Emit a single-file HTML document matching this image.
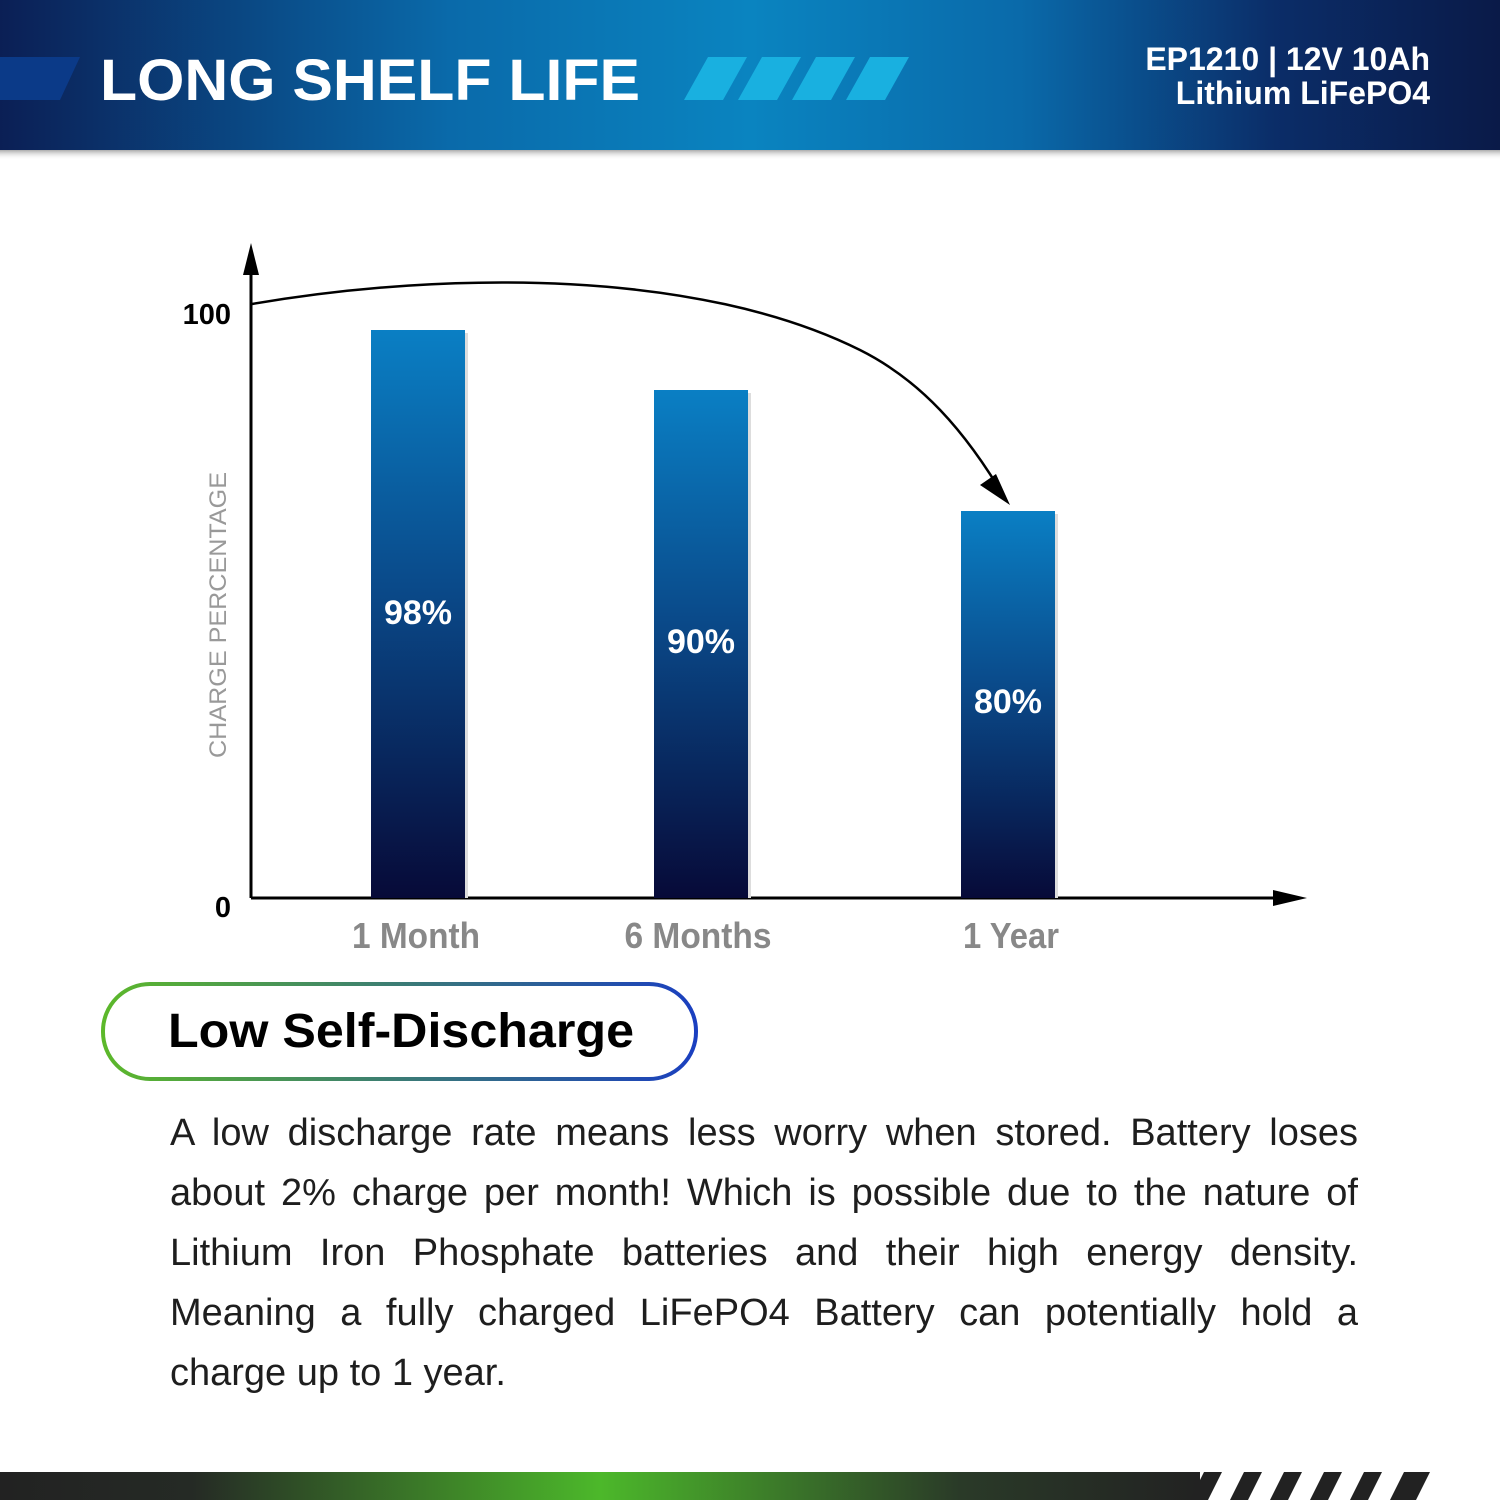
<!DOCTYPE html>
<html><head><meta charset="utf-8"><style>
html,body{margin:0;padding:0;background:#fff}
body{width:1500px;height:1500px;position:relative;overflow:hidden;font-family:"Liberation Sans",sans-serif}
.p{position:absolute;left:170px;top:1103px;width:1188px;font-size:38px;line-height:60px;color:#1e1e1e;text-align:justify;text-align-last:left}
</style></head><body>
<svg width="1500" height="1500" style="position:absolute;left:0;top:0">
<defs>
<linearGradient id="hd" x1="0" x2="1" y1="0" y2="0">
<stop offset="0" stop-color="#0b1f55"/><stop offset="0.3" stop-color="#0a6aaa"/><stop offset="0.5" stop-color="#0a84c0"/><stop offset="0.68" stop-color="#0a6aaa"/><stop offset="0.85" stop-color="#0b2d68"/><stop offset="1" stop-color="#0a1a48"/>
</linearGradient>
<linearGradient id="sh" x1="0" x2="0" y1="0" y2="1"><stop offset="0" stop-color="#888" stop-opacity=".7"/><stop offset="1" stop-color="#fff" stop-opacity="0"/></linearGradient>
<linearGradient id="bar" x1="0" x2="0" y1="0" y2="1"><stop offset="0" stop-color="#0a7fc4"/><stop offset="0.45" stop-color="#0a4a8a"/><stop offset="1" stop-color="#070a38"/></linearGradient>
<linearGradient id="ft" x1="0" x2="1" y1="0" y2="0"><stop offset="0" stop-color="#222"/><stop offset="0.16" stop-color="#252a25"/><stop offset="0.5" stop-color="#4cb82a"/><stop offset="0.8" stop-color="#2a3a28"/><stop offset="1" stop-color="#222"/></linearGradient>
<linearGradient id="pl" x1="0" x2="1" y1="0" y2="0"><stop offset="0" stop-color="#5cb82a"/><stop offset="1" stop-color="#1a3fc0"/></linearGradient>
</defs>
<rect x="0" y="0" width="1500" height="150" fill="url(#hd)"/>
<rect x="0" y="150" width="1500" height="10" fill="url(#sh)"/>
<polygon points="0,57 80,57 60,100 0,100" fill="#0b3a88"/>
<text x="100" y="100" font-size="58" font-weight="bold" fill="#fff" textLength="540" lengthAdjust="spacingAndGlyphs">LONG SHELF LIFE</text>
<g fill="#19b0e0">
<polygon points="708,57 747,57 723,100 684,100"/><polygon points="762,57 801,57 777,100 738,100"/><polygon points="816,57 855,57 831,100 792,100"/><polygon points="870,57 909,57 885,100 846,100"/>
</g>
<text x="1430" y="70" font-size="32" font-weight="bold" fill="#fff" text-anchor="end">EP1210 | 12V 10Ah</text>
<text x="1430" y="104" font-size="32" font-weight="bold" fill="#fff" text-anchor="end">Lithium LiFePO4</text>
<line x1="251" y1="898" x2="251" y2="250" stroke="#000" stroke-width="3"/>
<polygon points="251,243 243,275 259,275" fill="#000"/>
<line x1="251" y1="898" x2="1280" y2="898" stroke="#000" stroke-width="3"/>
<polygon points="1307,898 1273,890 1273,906" fill="#000"/>
<text x="231" y="324" font-size="29" font-weight="bold" text-anchor="end">100</text>
<text x="231" y="917" font-size="29" font-weight="bold" text-anchor="end">0</text>
<text transform="translate(226,615) rotate(-90)" font-size="24" fill="#999" text-anchor="middle" textLength="286" lengthAdjust="spacingAndGlyphs">CHARGE PERCENTAGE</text>
<rect x="374" y="333" width="94" height="565" fill="#ddd"/>
<rect x="371" y="330" width="94" height="568" fill="url(#bar)"/>
<rect x="657" y="393" width="94" height="505" fill="#ddd"/>
<rect x="654" y="390" width="94" height="508" fill="url(#bar)"/>
<rect x="964" y="514" width="94" height="384" fill="#ddd"/>
<rect x="961" y="511" width="94" height="387" fill="url(#bar)"/>
<g font-size="34" font-weight="bold" fill="#fff" text-anchor="middle">
<text x="418" y="624">98%</text><text x="701" y="653">90%</text><text x="1008" y="713">80%</text>
</g>
<path d="M252,304 C450,270 700,270 860,350 C920,380 965,430 1006,500" fill="none" stroke="#000" stroke-width="2.5"/>
<polygon points="1010,505 980,485 996,474" fill="#000"/>
<g font-size="36" font-weight="bold" fill="#888" text-anchor="middle">
<text x="416" y="948" textLength="128" lengthAdjust="spacingAndGlyphs">1 Month</text><text x="698" y="948" textLength="147" lengthAdjust="spacingAndGlyphs">6 Months</text><text x="1011" y="948" textLength="96" lengthAdjust="spacingAndGlyphs">1 Year</text>
</g>
<rect x="103" y="984" width="593" height="95" rx="47" fill="#fff" stroke="url(#pl)" stroke-width="4"/>
<text x="168" y="1047" font-size="48" font-weight="bold" textLength="466" lengthAdjust="spacingAndGlyphs">Low Self-Discharge</text>
<rect x="0" y="1472" width="1200" height="28" fill="url(#ft)"/>
<g fill="#222">
<polygon points="1204,1472 1222,1472 1208,1500 1190,1500"/>
<polygon points="1244,1472 1262,1472 1248,1500 1230,1500"/>
<polygon points="1284,1472 1302,1472 1288,1500 1270,1500"/>
<polygon points="1324,1472 1342,1472 1328,1500 1310,1500"/>
<polygon points="1364,1472 1382,1472 1368,1500 1350,1500"/>
<polygon points="1404,1472 1430,1472 1416,1500 1390,1500"/>
</g>
</svg>
<div class="p">A low discharge rate means less worry when stored. Battery loses about 2% charge per month! Which is possible due to the nature of Lithium Iron Phosphate batteries and their high energy density. Meaning a fully charged LiFePO4 Battery can potentially hold a charge up to 1 year.</div>
</body></html>
